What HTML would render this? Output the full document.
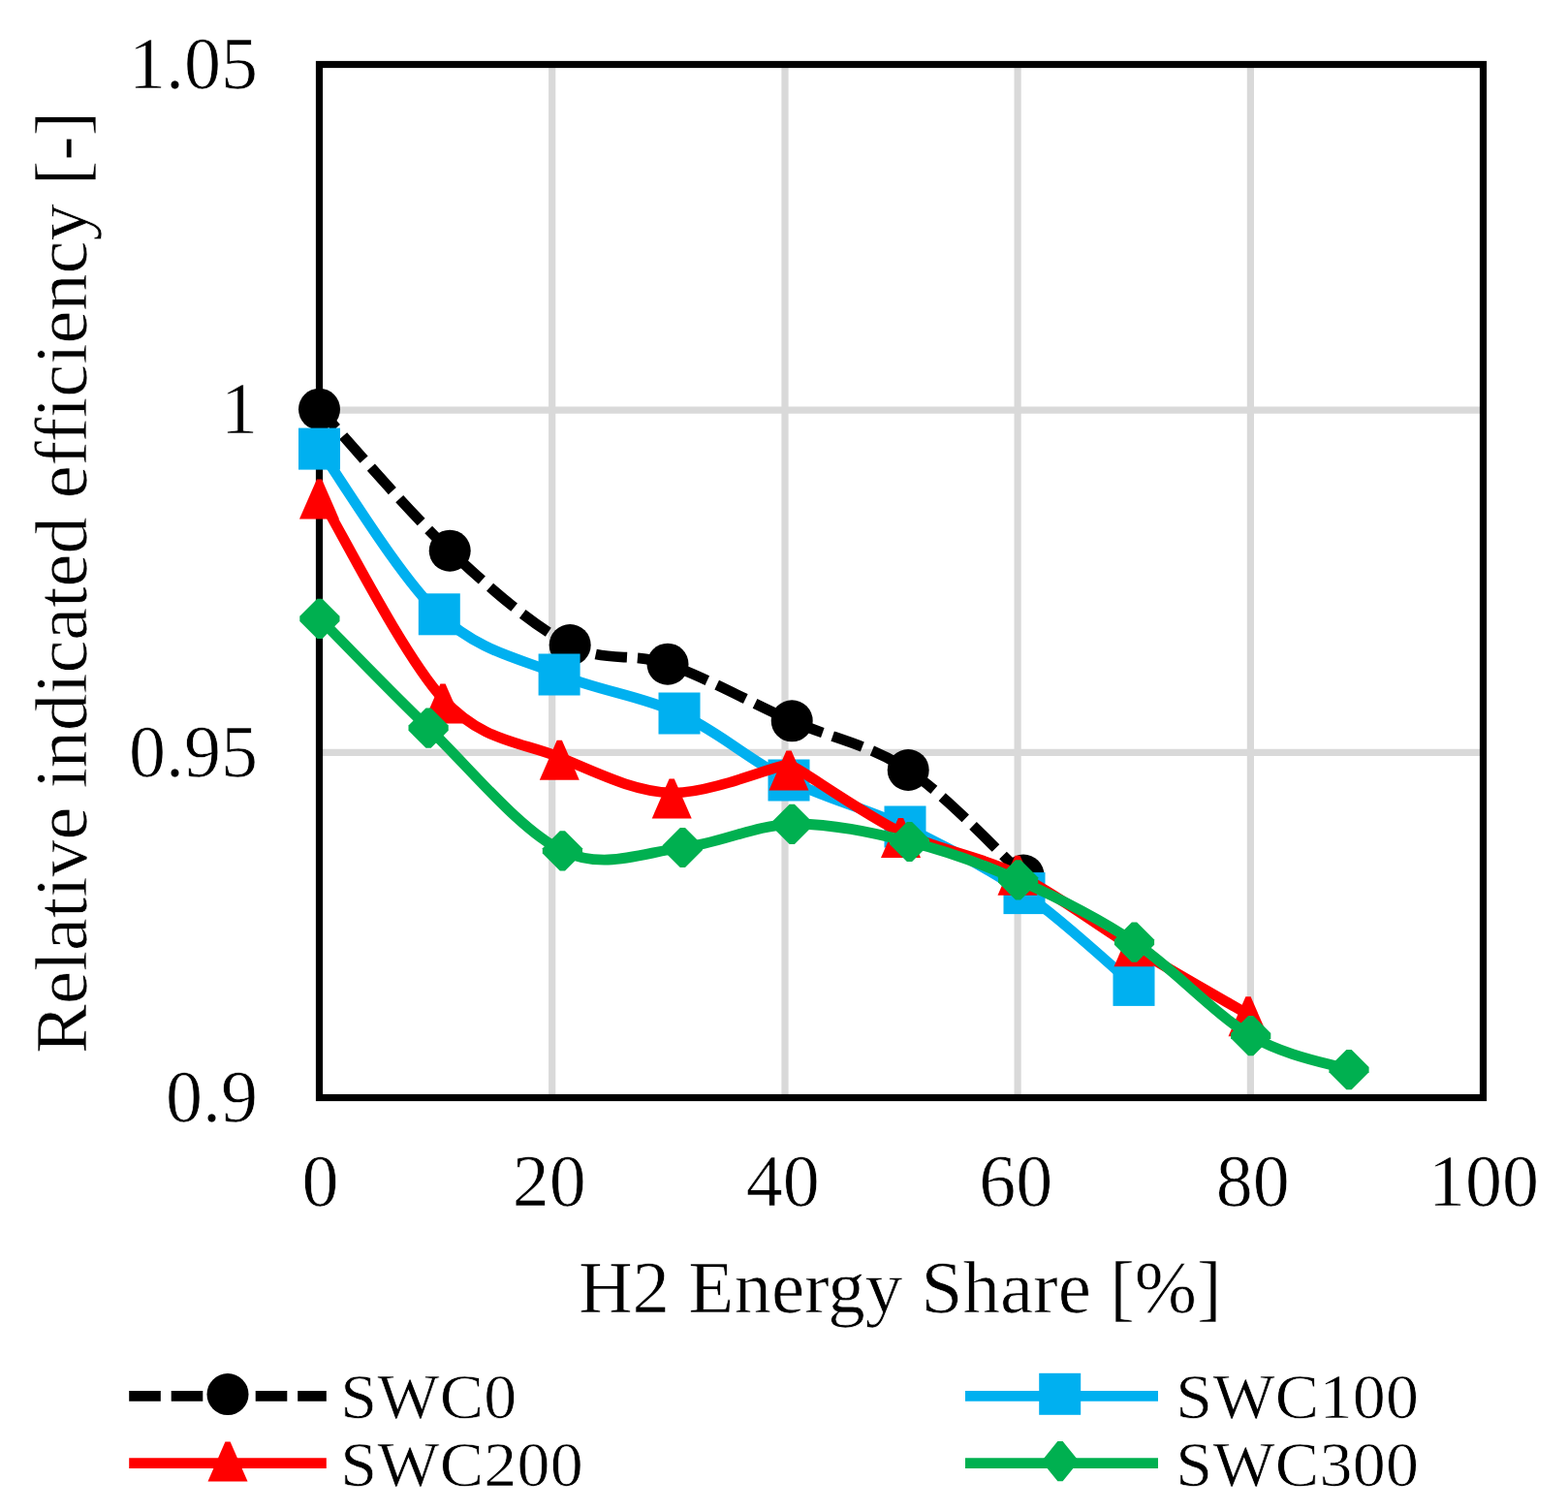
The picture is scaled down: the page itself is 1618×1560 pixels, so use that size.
<!DOCTYPE html>
<html><head><meta charset="utf-8"><title>Relative indicated efficiency vs H2 energy share</title>
<style>
html,body{margin:0;padding:0;background:#fff;}
body{width:1618px;height:1560px;overflow:hidden;position:relative;}
svg{position:absolute;left:0;top:0;display:block;}
svg text{font-family:"Liberation Serif", "Times New Roman", serif;fill:#000;stroke:#fff;stroke-width:0.7px;}
</style></head><body>
<svg width="1618" height="1560" viewBox="0 0 1618 1560">
<rect x="0" y="0" width="1618" height="1560" fill="#ffffff"/>
<g stroke="#D9D9D9" stroke-width="7.2" fill="none">
<line x1="569.7" y1="66.5" x2="569.7" y2="1132.5"/>
<line x1="810" y1="66.5" x2="810" y2="1132.5"/>
<line x1="1050.1" y1="66.5" x2="1050.1" y2="1132.5"/>
<line x1="1290.4" y1="66.5" x2="1290.4" y2="1132.5"/>
<line x1="329.5" y1="423.1" x2="1530.5" y2="423.1"/>
<line x1="329.5" y1="776.3" x2="1530.5" y2="776.3"/>
</g>
<rect x="329.5" y="66.5" width="1201" height="1066" fill="none" stroke="#000" stroke-width="7.2"/>
<g>
<path d="M329.5,422.2 C351.9,446.5 421.1,527.7 464.2,568.2 C507.3,608.8 550.7,646 588.2,665.5 C625.7,685 650.8,672.2 689,685.2 C727.2,698.2 775.8,725.6 817.2,743.8 C858.6,762 897.4,768 937.2,794.5 C977,821 1036.2,884.9 1056,903" fill="none" stroke="#000000" stroke-width="10.8" stroke-linejoin="round" stroke-dasharray="32.6 10.9" stroke-dashoffset="6.5"/>
<circle cx="329.5" cy="422.2" r="21.5" fill="#000000"/>
<circle cx="464.2" cy="568.2" r="21.5" fill="#000000"/>
<circle cx="588.2" cy="665.5" r="21.5" fill="#000000"/>
<circle cx="689" cy="685.2" r="21.5" fill="#000000"/>
<circle cx="817.2" cy="743.8" r="21.5" fill="#000000"/>
<circle cx="937.2" cy="794.5" r="21.5" fill="#000000"/>
<circle cx="1056" cy="903" r="21.5" fill="#000000"/>
</g>
<g>
<path d="M329.5,463.1 C350.1,491.6 412,595 453.3,633.8 C494.6,672.6 535.8,679 577.1,696 C618.4,713 661.5,717.8 701,736 C740.5,754.2 775.2,785.5 814,805 C852.8,824.5 893.5,833.6 934,853 C974.5,872.4 1017.7,894.4 1057,921.6 C1096.3,948.8 1151.2,1000.6 1170,1016.4" fill="none" stroke="#00B0F0" stroke-width="10.8" stroke-linejoin="round"/>
<rect x="308" y="441.6" width="43" height="43" fill="#00B0F0"/>
<rect x="431.8" y="612.3" width="43" height="43" fill="#00B0F0"/>
<rect x="555.6" y="674.5" width="43" height="43" fill="#00B0F0"/>
<rect x="679.5" y="714.5" width="43" height="43" fill="#00B0F0"/>
<rect x="792.5" y="783.5" width="43" height="43" fill="#00B0F0"/>
<rect x="912.5" y="831.5" width="43" height="43" fill="#00B0F0"/>
<rect x="1035.5" y="900.1" width="43" height="43" fill="#00B0F0"/>
<rect x="1148.5" y="994.9" width="43" height="43" fill="#00B0F0"/>
</g>
<g>
<path d="M329.5,511 C350.8,546 415.7,676 457,721 C498.3,766 537.9,765.1 577.3,781.3 C616.7,797.5 653.8,816.8 693.2,818 C732.7,819.2 806.9,787.4 814,788.6 C821.1,789.8 890.2,839.7 929.5,858.6 C968.8,877.5 1009.9,882.4 1050,902.3 C1090.1,922.2 1130.3,953.7 1170,977.8 C1209.7,1001.9 1268.3,1035.2 1288,1046.7" fill="none" stroke="#FF0000" stroke-width="10.8" stroke-linejoin="round"/>
<polygon points="326.9,494.5 332.1,494.5 350,535.5 309,535.5" fill="#FF0000"/>
<polygon points="454.4,705.5 459.6,705.5 477.5,746.5 436.5,746.5" fill="#FF0000"/>
<polygon points="574.7,763.8 579.9,763.8 597.8,804.8 556.8,804.8" fill="#FF0000"/>
<polygon points="690.6,803.5 695.8,803.5 713.7,844.5 672.7,844.5" fill="#FF0000"/>
<polygon points="811.4,774.6 816.6,774.6 834.5,815.6 793.5,815.6" fill="#FF0000"/>
<polygon points="926.9,844.1 932.1,844.1 950,885.1 909,885.1" fill="#FF0000"/>
<polygon points="1047.4,882.8 1052.6,882.8 1070.5,923.8 1029.5,923.8" fill="#FF0000"/>
<polygon points="1167.4,956.3 1172.6,956.3 1190.5,997.3 1149.5,997.3" fill="#FF0000"/>
<polygon points="1285.4,1028.2 1290.6,1028.2 1308.5,1069.2 1267.5,1069.2" fill="#FF0000"/>
</g>
<g>
<path d="M329.9,638.3 C348.6,657.1 400.4,711.3 442.1,751.2 C483.9,791.1 536.7,857.2 580.4,877.8 C624.1,898.3 664.9,879.1 704.4,874.5 C743.9,869.9 778.3,851.3 817.3,850.3 C856.3,849.3 899.6,858.9 938.5,868.5 C977.4,878.1 1011.9,890.6 1050.6,907.9 C1089.3,925.2 1130.5,945.3 1170.5,972.1 C1210.5,998.9 1253.8,1046.8 1290.7,1068.7 C1327.6,1090.6 1375.1,1097.9 1392,1103.7" fill="none" stroke="#00B050" stroke-width="10.8" stroke-linejoin="round"/>
<polygon points="327.3,617.7 332.5,617.7 350.5,635.7 350.5,640.9 332.5,658.9 327.3,658.9 309.3,640.9 309.3,635.7" fill="#00B050"/>
<polygon points="439.5,730.6 444.7,730.6 462.7,748.6 462.7,753.8 444.7,771.8 439.5,771.8 421.5,753.8 421.5,748.6" fill="#00B050"/>
<polygon points="577.8,857.2 583,857.2 601,875.2 601,880.4 583,898.4 577.8,898.4 559.8,880.4 559.8,875.2" fill="#00B050"/>
<polygon points="701.8,853.9 707,853.9 725,871.9 725,877.1 707,895.1 701.8,895.1 683.8,877.1 683.8,871.9" fill="#00B050"/>
<polygon points="814.7,829.7 819.9,829.7 837.9,847.7 837.9,852.9 819.9,870.9 814.7,870.9 796.7,852.9 796.7,847.7" fill="#00B050"/>
<polygon points="935.9,847.9 941.1,847.9 959.1,865.9 959.1,871.1 941.1,889.1 935.9,889.1 917.9,871.1 917.9,865.9" fill="#00B050"/>
<polygon points="1048,887.3 1053.2,887.3 1071.2,905.3 1071.2,910.5 1053.2,928.5 1048,928.5 1030,910.5 1030,905.3" fill="#00B050"/>
<polygon points="1167.9,951.5 1173.1,951.5 1191.1,969.5 1191.1,974.7 1173.1,992.7 1167.9,992.7 1149.9,974.7 1149.9,969.5" fill="#00B050"/>
<polygon points="1288.1,1048.1 1293.3,1048.1 1311.3,1066.1 1311.3,1071.3 1293.3,1089.3 1288.1,1089.3 1270.1,1071.3 1270.1,1066.1" fill="#00B050"/>
<polygon points="1389.4,1083.1 1394.6,1083.1 1412.6,1101.1 1412.6,1106.3 1394.6,1124.3 1389.4,1124.3 1371.4,1106.3 1371.4,1101.1" fill="#00B050"/>
</g>
<g font-size="76" text-anchor="end">
<text x="266" y="90.8">1.05</text>
<text x="266" y="447.4">1</text>
<text x="266" y="800.6">0.95</text>
<text x="266" y="1156.8">0.9</text>
</g>
<g font-size="76" text-anchor="middle">
<text x="330.6" y="1244.1">0</text>
<text x="566.7" y="1244.1">20</text>
<text x="807.7" y="1244.1">40</text>
<text x="1048.3" y="1244.1">60</text>
<text x="1292.8" y="1244.1">80</text>
<text x="1531.1" y="1244.1">100</text>
</g>
<text x="928.8" y="1354.4" font-size="77" text-anchor="middle">H2 Energy Share [%]</text>
<text transform="translate(89.1,601) rotate(-90)" x="0" y="0" font-size="76.4" text-anchor="middle">Relative indicated efficiency [-]</text>
<g>
<line x1="133.2" y1="1440.4" x2="336.8" y2="1440.4" stroke="#000000" stroke-width="10.8" stroke-dasharray="32.6 10.9"/>
<circle cx="235" cy="1438.6" r="21.5" fill="#000000"/><line x1="996" y1="1440.4" x2="1195" y2="1440.4" stroke="#00B0F0" stroke-width="10.8"/>
<rect x="1072.2" y="1416.8" width="43" height="43" fill="#00B0F0"/><line x1="133.2" y1="1509.7" x2="336.8" y2="1509.7" stroke="#FF0000" stroke-width="10.8"/>
<polygon points="232.4,1487.4 237.6,1487.4 255.5,1528.4 214.5,1528.4" fill="#FF0000"/><line x1="996" y1="1509.7" x2="1195" y2="1509.7" stroke="#00B050" stroke-width="10.8"/>
<polygon points="1091.4,1487.1 1096.6,1487.1 1111.2,1505.1 1111.2,1510.3 1096.6,1528.3 1091.4,1528.3 1076.8,1510.3 1076.8,1505.1" fill="#00B050"/></g>
<g font-size="65" letter-spacing="0.3">
<text transform="translate(351.2,1463.3) scale(1.045,1)" x="0" y="0">SWC0</text>
<text transform="translate(1213.3,1463.3) scale(1.045,1)" x="0" y="0">SWC100</text>
<text transform="translate(351.2,1532.6) scale(1.045,1)" x="0" y="0">SWC200</text>
<text transform="translate(1213.3,1532.6) scale(1.045,1)" x="0" y="0">SWC300</text>
</g>
</svg>
</body></html>
